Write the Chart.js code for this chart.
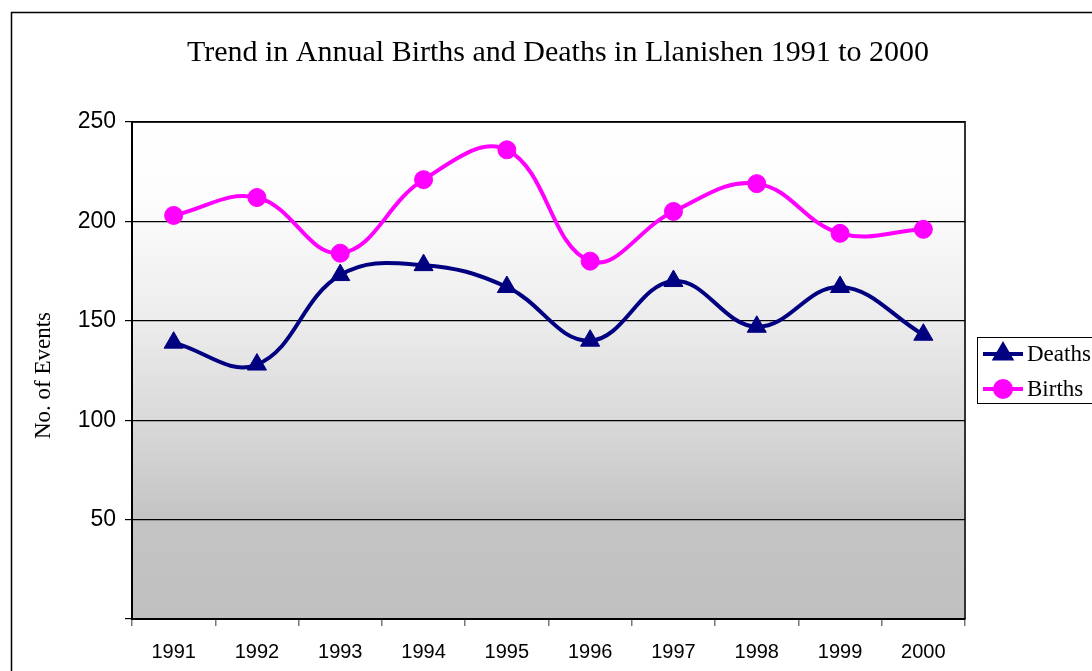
<!DOCTYPE html>
<html>
<head>
<meta charset="utf-8">
<script src="https://cdn.jsdelivr.net/npm/chart.js@4.4.0/dist/chart.umd.min.js"></script>
<style>
  html, body { margin: 0; padding: 0; background: #fff; }
  #wrap { width: 1092px; height: 671px; }
</style>
</head>
<body>
<div id="wrap"><canvas id="chart" width="1092" height="671"></canvas></div>
<script>
// data
const years = ['1991', '1992', '1993', '1994', '1995', '1996', '1997', '1998', '1999', '2000'];
const deaths = [139, 128, 173, 178, 167, 140, 170, 147, 167, 143];
const births = [203, 212, 184, 221, 236, 180, 205, 219, 194, 196];
const yTicks = [0, 50, 100, 150, 200, 250];

const chartTitle = 'Trend in Annual Births and Deaths in Llanishen 1991 to 2000';
const yTitle = 'No. of Events';

const serif = '"Liberation Serif", "Times New Roman", serif';
const sans = '"Liberation Sans", Arial, sans-serif';

// background gradient + frame, drawn before datasets
const decorPlugin = {
    id: 'decor',
    beforeDraw(chart) {
        const ctx = chart.ctx;
        const a = chart.chartArea;
        ctx.save();
        // outer chart border
        ctx.strokeStyle = '#000';
        ctx.lineWidth = 1.5;
        ctx.strokeRect(11.5, 12.5, 1200, 800);

        // plot area gradient (white on top, grey at the bottom)
        const g = ctx.createLinearGradient(0, a.top, 0, a.bottom);
        g.addColorStop(0, '#ffffff');
        g.addColorStop(0.15, '#fdfdfd');
        g.addColorStop(0.4, '#ececec');
        g.addColorStop(0.6, '#d9d9d9');
        g.addColorStop(0.8, '#c4c4c4');
        g.addColorStop(1, '#c0c0c0');
        ctx.fillStyle = g;
        ctx.fillRect(a.left, a.top, a.right - a.left, a.bottom - a.top);

        // plot border (top + right)
        ctx.strokeStyle = '#333';
        ctx.lineWidth = 2;
        ctx.beginPath();
        ctx.moveTo(a.left, a.top);
        ctx.lineTo(a.right, a.top);
        ctx.lineTo(a.right, a.bottom);
        ctx.stroke();

        // title
        ctx.fillStyle = '#000';
        ctx.font = '30px ' + serif;
        ctx.textAlign = 'center';
        ctx.textBaseline = 'middle';
        ctx.fillText(chartTitle, 558, 53);

        // y axis title
        ctx.translate(44, (a.top + a.bottom) / 2 + 5);
        ctx.rotate(-Math.PI / 2);
        ctx.font = '23px ' + serif;
        ctx.fillText(yTitle, 0, 0);
        ctx.restore();
    },
    afterDraw(chart) {
        const ctx = chart.ctx;
        ctx.save();
        // legend box
        ctx.fillStyle = '#fff';
        ctx.fillRect(977, 337, 140, 66);
        ctx.strokeStyle = '#000';
        ctx.lineWidth = 1;
        ctx.strokeRect(977.5, 337.5, 140, 66);

        const items = [
            { label: 'Deaths', color: '#000080', style: 'triangle', y: 354 },
            { label: 'Births', color: '#ff00ff', style: 'circle', y: 389 }
        ];
        items.forEach(it => {
            ctx.strokeStyle = it.color;
            ctx.lineWidth = 4;
            ctx.beginPath();
            ctx.moveTo(983, it.y);
            ctx.lineTo(1023, it.y);
            ctx.stroke();
            Chart.helpers.drawPoint(ctx, {
                pointStyle: it.style,
                radius: it.style === 'triangle' ? 9 : 8,
                borderWidth: 1
            }, 1003, it.y);
            ctx.fillStyle = it.color;
            ctx.fill();
            ctx.fillStyle = '#000';
            ctx.font = '23px ' + serif;
            ctx.textAlign = 'left';
            ctx.textBaseline = 'middle';
            ctx.fillText(it.label, 1027, it.y + 1);
        });
        ctx.restore();
    }
};

const ctx = document.getElementById('chart').getContext('2d');
new Chart(ctx, {
    type: 'line',
    data: {
        labels: years,
        datasets: [
            {
                label: 'Deaths',
                data: deaths,
                borderColor: '#000080',
                backgroundColor: '#000080',
                borderWidth: 4,
                tension: 0.4,
                pointStyle: 'triangle',
                pointRadius: 11,
                pointBorderWidth: 1,
                fill: false
            },
            {
                label: 'Births',
                data: births,
                borderColor: '#ff00ff',
                backgroundColor: '#ff00ff',
                borderWidth: 4,
                tension: 0.4,
                pointStyle: 'circle',
                pointRadius: 9,
                pointBorderWidth: 1,
                fill: false
            }
        ]
    },
    options: {
        responsive: false,
        animation: false,
        layout: { padding: { top: 122, right: 127, left: 0, bottom: 0 } },
        plugins: {
            legend: { display: false },
            title: { display: false },
            tooltip: { enabled: false }
        },
        scales: {
            x: {
                offset: true,
                afterFit: s => { s.height = 52; },
                grid: {
                    offset: true,
                    drawOnChartArea: false,
                    tickLength: 7,
                    color: '#777',
                    lineWidth: 1.5
                },
                border: { color: '#000', width: 2 },
                ticks: {
                    color: '#000',
                    font: { family: sans, size: 20 },
                    padding: 14,
                    maxRotation: 0
                }
            },
            y: {
                min: 0,
                max: 250,
                afterFit: s => { s.width = 132; },
                afterBuildTicks: s => { s.ticks = yTicks.map(v => ({ value: v })); },
                grid: {
                    color: '#000',
                    lineWidth: 1.2,
                    tickLength: 7
                },
                border: { color: '#000', width: 2 },
                ticks: {
                    color: '#000',
                    font: { family: sans, size: 23 },
                    padding: 9,
                    callback: v => (v === 0 ? '' : v)
                }
            }
        }
    },
    plugins: [decorPlugin]
});
</script>
</body>
</html>
